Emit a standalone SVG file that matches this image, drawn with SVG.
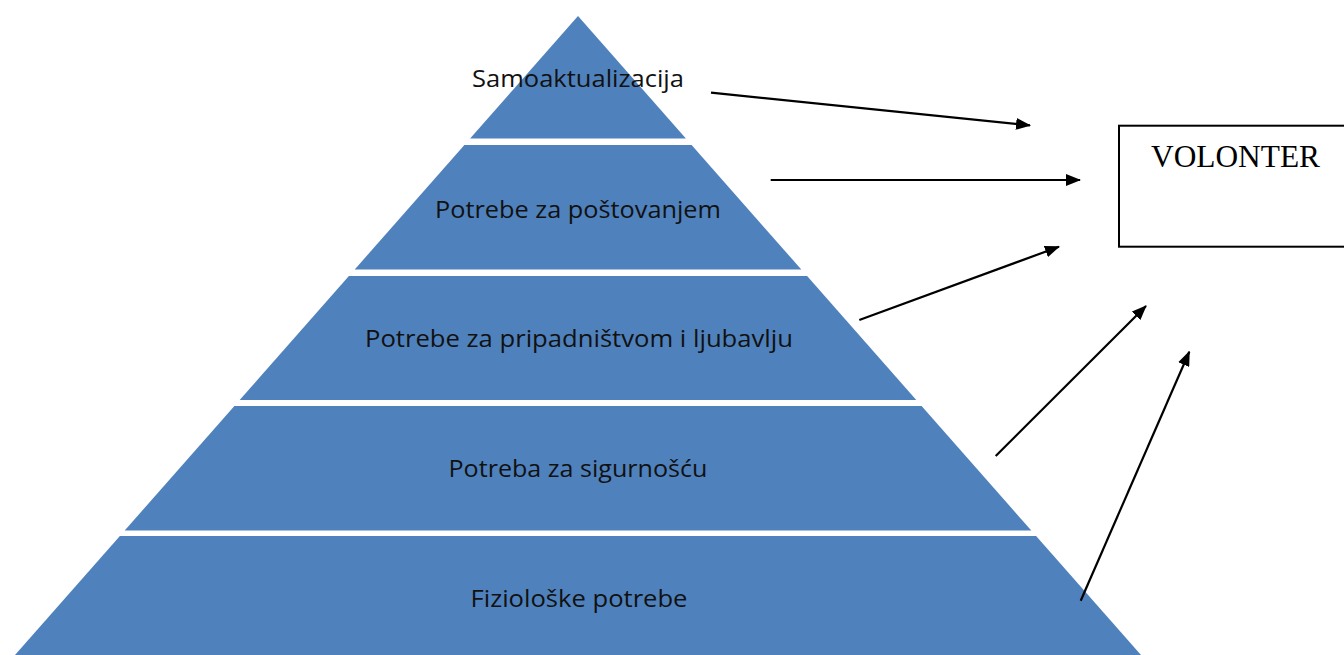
<svg xmlns="http://www.w3.org/2000/svg" width="1344" height="655" viewBox="0 0 1344 655">
  <defs>
    <style>
      .tier { fill: #4F81BD; }
      .lbl { font-family: "Open Sans", "Noto Sans", sans-serif; font-size: 23px; fill: #111111; text-anchor: middle; }
      .box { fill: #ffffff; stroke: #000000; stroke-width: 2; }
      .boxlbl { font-family: "Liberation Serif", "Times New Roman", serif; font-size: 31.5px; fill: #000000; }
      .conn { stroke: #000000; stroke-width: 2.2; fill: none; marker-end: url(#arrow); }
    </style>
    <marker id="arrow" viewBox="0 0 15 12" refX="14" refY="6" markerWidth="15" markerHeight="12" markerUnits="userSpaceOnUse" orient="auto">
      <path d="M0,0 L15,6 L0,12 Z" fill="#000000"/>
    </marker>
  </defs>
  <rect width="1344" height="655" fill="#ffffff"/>

  <g id="tier1">
    <polygon class="tier" points="578,16 685.9,138.5 470.1,138.5"/>
    <text class="lbl" x="578" y="87.3" textLength="212" lengthAdjust="spacingAndGlyphs">Samoaktualizacija</text>
  </g>
  <g id="tier2">
    <polygon class="tier" points="464.4,145 691.6,145 801.3,269.5 354.7,269.5"/>
    <text class="lbl" x="578" y="218.3" textLength="286" lengthAdjust="spacingAndGlyphs">Potrebe za poštovanjem</text>
  </g>
  <g id="tier3">
    <polygon class="tier" points="348.9,276 807.1,276 916.3,400 239.7,400"/>
    <text class="lbl" x="579" y="346.7" textLength="428" lengthAdjust="spacingAndGlyphs">Potrebe za pripadništvom i ljubavlju</text>
  </g>
  <g id="tier4">
    <polygon class="tier" points="234.4,406 921.6,406 1031.3,530.5 124.7,530.5"/>
    <text class="lbl" x="578" y="476.7" textLength="259" lengthAdjust="spacingAndGlyphs">Potreba za sigurnošću</text>
  </g>
  <g id="tier5">
    <polygon class="tier" points="119.9,536 1036.1,536 1145.4,660 10.6,660"/>
    <text class="lbl" x="579" y="606.7" textLength="217" lengthAdjust="spacingAndGlyphs">Fiziološke potrebe</text>
  </g>

  <g id="volonter">
    <rect class="box" x="1119" y="125.7" width="240" height="121"/>
    <text class="boxlbl" x="1151" y="166.7" textLength="169" lengthAdjust="spacingAndGlyphs">VOLONTER</text>
  </g>

  <g id="connectors">
    <line class="conn" x1="711" y1="92.7" x2="1030" y2="125.3"/>
    <line class="conn" x1="770.7" y1="180" x2="1080" y2="180"/>
    <line class="conn" x1="859.3" y1="320" x2="1059" y2="246.7"/>
    <line class="conn" x1="995.7" y1="456" x2="1146" y2="306"/>
    <line class="conn" x1="1080.7" y1="600.7" x2="1189.3" y2="351.7"/>
  </g>
</svg>
